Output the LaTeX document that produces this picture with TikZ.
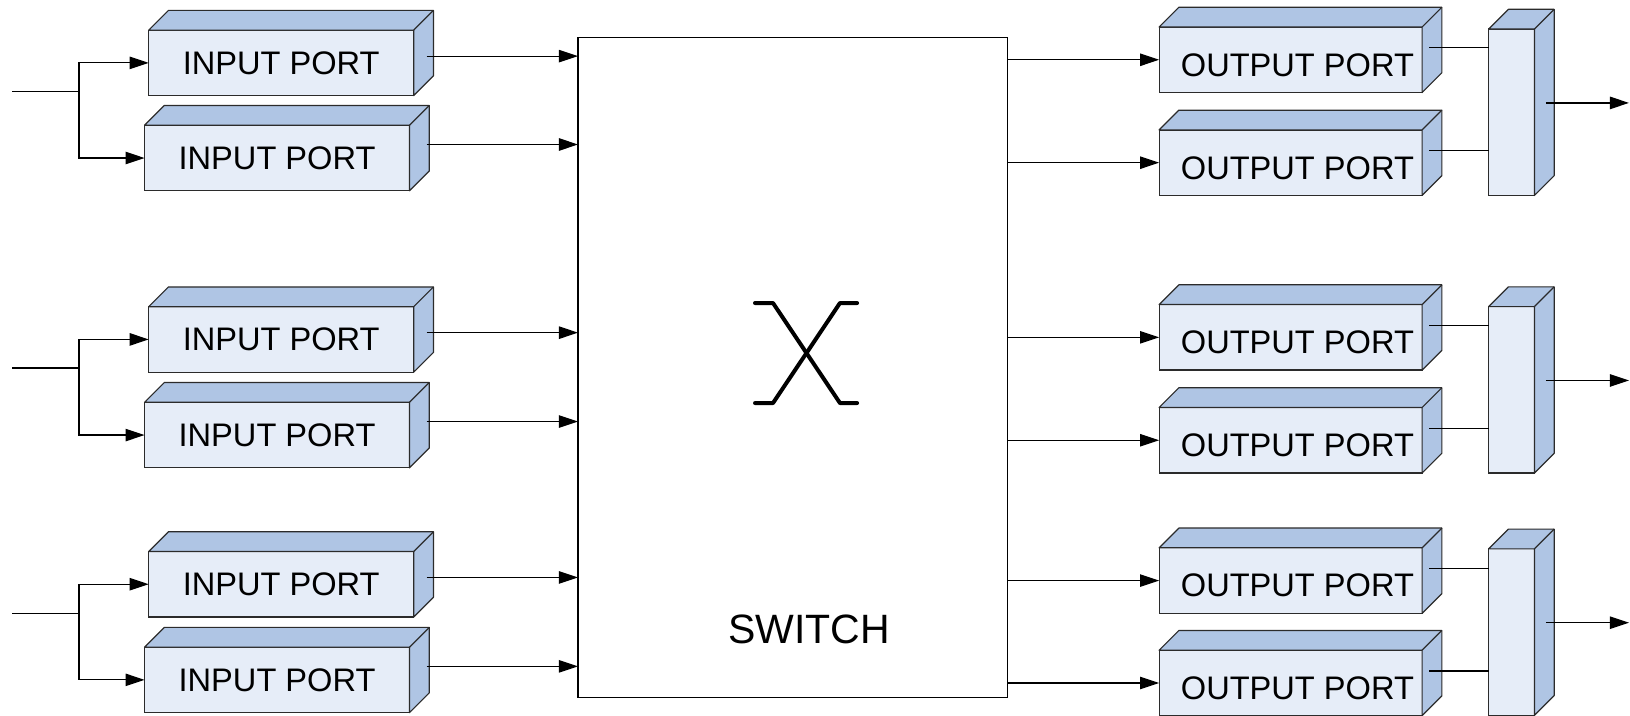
\documentclass[tikz,border=0pt]{standalone}
\usepackage{fontspec}
\setmainfont{Liberation Sans}
\usetikzlibrary{calc,arrows.meta}
\definecolor{frontc}{HTML}{E6EDF8}
\definecolor{sidec}{HTML}{AFC5E4}
\definecolor{edgec}{HTML}{2B2B2B}
\newcommand\boxfaces[1]{%
  \filldraw[draw=edgec, line width=0.6pt, fill=sidec, line join=round]
    (#1.north west) -- ++(19,-19) -- ($(#1.north east)+(19,-19)$)
    -- ($(#1.south east)+(19,-19)$) -- (#1.south east) -- (#1.north east) -- cycle;
  \draw[edgec, line width=0.6pt] (#1.north east) -- ++(19,-19);}
\begin{document}
\begin{tikzpicture}[x=0.5198pt,y=-0.5198pt,
  face/.style={draw=edgec, line width=0.6pt, fill=frontc, inner sep=0pt, outer sep=0pt},
  iport/.style={face, minimum width=132.5pt, minimum height=32.75pt, font=\fontsize{16.3}{18}\selectfont},
  oport/.style={face, minimum width=131.5pt, minimum height=32.75pt, text height=16.4pt, text depth=0pt, font=\fontsize{16.3}{18}\selectfont},
  comb/.style={face, minimum width=22.9pt, minimum height=83.2pt},
  swbox/.style={draw=black, line width=0.7pt, fill=white, minimum width=214.7pt, minimum height=330.1pt, inner sep=0pt, outer sep=0pt},
  conn/.style={draw=black, line width=0.6pt},
  arr/.style={conn, -{Triangle[length=9.5pt, width=6.2pt]}},
  xsym/.style={draw=black, line width=2pt, line cap=round, line join=round}
]
\useasboundingbox (0,0) rectangle (1568,688);

% switch
\node[swbox] (sw) at (762.5,353.5) {};
\node[font=\fontsize{20.5}{24}\selectfont] (swl) at (778.3,605) {SWITCH};
\draw[xsym] (726.3,291.5) -- (743.6,291.5) -- (808,387.7) -- (824.5,387.7);
\draw[xsym] (726.3,387.7) -- (743.6,387.7) -- (808,291.5) -- (824.5,291.5);

% input ports
\node[iport] (iA) at (270.5,60.5) {INPUT PORT}; \boxfaces{iA}
\node[iport] (iB) at (266.5,152) {INPUT PORT}; \boxfaces{iB}
\node[iport] (iC) at (270.5,326.5) {INPUT PORT}; \boxfaces{iC}
\node[iport] (iD) at (266.5,418.5) {INPUT PORT}; \boxfaces{iD}
\node[iport] (iE) at (270.5,562) {INPUT PORT}; \boxfaces{iE}
\node[iport] (iF) at (266.5,654) {INPUT PORT}; \boxfaces{iF}

% output ports
\node[oport] (o1) at (1241.5,57.5) {\hspace*{6.8pt}OUTPUT PORT}; \boxfaces{o1}
\node[oport] (o2) at (1241.5,156.5) {\hspace*{6.8pt}OUTPUT PORT}; \boxfaces{o2}
\node[oport] (o3) at (1241.5,324.5) {\hspace*{6.8pt}OUTPUT PORT}; \boxfaces{o3}
\node[oport] (o4) at (1241.5,423.5) {\hspace*{6.8pt}OUTPUT PORT}; \boxfaces{o4}
\node[oport] (o5) at (1241.5,558.5) {\hspace*{6.8pt}OUTPUT PORT}; \boxfaces{o5}
\node[oport] (o6) at (1241.5,657) {\hspace*{6.8pt}OUTPUT PORT}; \boxfaces{o6}

% combiners
\node[comb] (c1) at (1454,108) {}; \boxfaces{c1}
\node[comb] (c2) at (1454,375) {}; \boxfaces{c2}
\node[comb] (c3) at (1454,608) {}; \boxfaces{c3}

% input lines
\coordinate (s1) at (12,88);  \coordinate (j1) at (76,88);
\coordinate (s2) at (12,354); \coordinate (j2) at (76,354);
\coordinate (s3) at (12,590); \coordinate (j3) at (76,590);
\draw[conn] (s1) -- (j1);
\draw[conn] (s2) -- (j2);
\draw[conn] (s3) -- (j3);
\draw[arr] (j1) |- (iA.west);
\draw[arr] (j1) |- (iB.west);
\draw[arr] (j2) |- (iC.west);
\draw[arr] (j2) |- (iD.west);
\draw[arr] (j3) |- (iE.west);
\draw[arr] (j3) |- (iF.west);

% input ports to switch
\foreach \p in {iA,iC,iE}{
  \coordinate (q\p) at ($(\p.east)+(12.5,-6.5)$);
  \draw[arr] (q\p) -- (q\p -| sw.west);
}
\foreach \p in {iB,iD,iF}{
  \coordinate (q\p) at ($(\p.east)+(16.5,-13)$);
  \draw[arr] (q\p) -- (q\p -| sw.west);
}

% switch to output ports
\foreach \p in {o1,o2,o3,o4,o5,o6}{
  \draw[arr] (\p.west -| sw.east) -- (\p.west);
}

% output ports to combiners
\foreach \p/\c in {o1/c1,o2/c1,o3/c2,o4/c2,o5/c3,o6/c3}{
  \coordinate (t\p) at ($(\p.east)+(7,-11.5)$);
  \draw[conn] (t\p) -- (t\p -| \c.west);
}

% combiner outputs
\coordinate (rend) at (1567,0);
\foreach \c in {c1,c2,c3}{
  \coordinate (u\c) at ($(\c.east)+(11,-9)$);
  \draw[arr] (u\c) -- (u\c -| rend);
}
\end{tikzpicture}
\end{document}
